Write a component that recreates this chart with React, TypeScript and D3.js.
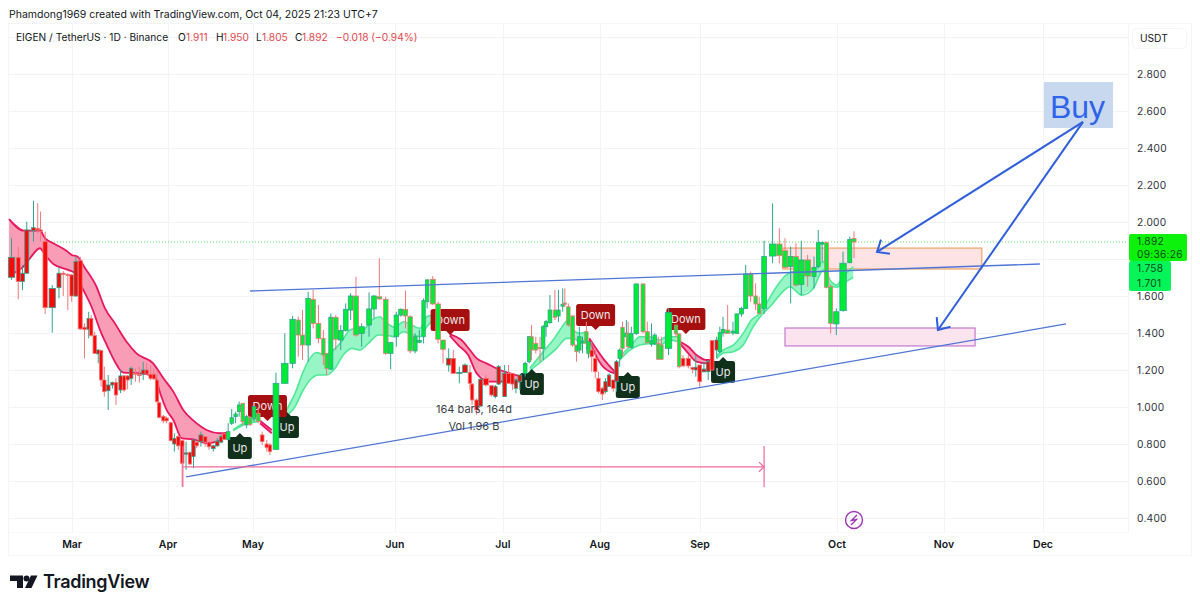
import React from "react";
import * as d3 from "d3";

type Bar = [number, number, number, number, number];
type Pt = [number, number];

// [session, open, high, low, close]
const barsFebApr: Bar[] = [
  [1.0,1.701,1.912,1.687,1.809],[2.9,1.809,1.867,1.582,1.678],[4.1,1.678,1.768,1.632,1.723],[5.3,1.723,2.002,1.723,1.957],
  [7.2,1.953,2.115,1.894,1.969],[8.4,1.965,2.101,1.939,1.957],[9.2,1.957,2.056,1.894,1.948],[10.5,1.894,1.948,1.503,1.537],
  [12.5,1.537,1.659,1.402,1.641],[14.4,1.645,1.755,1.587,1.723],[15.6,1.723,1.735,1.600,1.716],[16.9,1.716,1.723,1.524,1.712],
  [18.0,1.714,1.719,1.569,1.600],[19.2,1.600,1.813,1.596,1.786],[20.4,1.791,1.813,1.416,1.422],[21.6,1.431,1.452,1.263,1.420],
  [22.8,1.420,1.515,1.371,1.479],[23.5,1.479,1.497,1.380,1.386],[24.5,1.386,1.407,1.287,1.290],[25.5,1.287,1.312,1.236,1.308],
  [26.3,1.305,1.308,1.110,1.146],[27.2,1.146,1.218,1.056,1.083],[28.3,1.088,1.173,0.984,1.119],[29.5,1.119,1.137,1.100,1.132],
  [30.5,1.132,1.155,1.011,1.065],[31.8,1.092,1.200,1.075,1.168],[32.8,1.168,1.173,1.083,1.092],[33.8,1.168,1.173,1.096,1.146],
  [34.8,1.155,1.218,1.119,1.209],[36.0,1.182,1.209,1.137,1.178],[37.1,1.175,1.218,1.132,1.170],[38.2,1.178,1.245,1.146,1.200],
  [39.2,1.200,1.236,1.173,1.178],[40.3,1.177,1.227,1.146,1.155],[41.2,1.177,1.209,1.146,1.152],[42.1,1.146,1.200,1.020,1.029],
  [42.7,1.023,1.029,0.939,0.944],[43.9,0.950,0.957,0.912,0.925],[44.8,0.940,0.948,0.912,0.925],[46.0,0.915,0.921,0.813,0.818],
  [47.0,0.800,0.858,0.759,0.830],[48.1,0.840,0.849,0.768,0.790],[49.2,0.818,0.822,0.569,0.696],[50.3,0.745,0.813,0.660,0.752],
  [51.4,0.755,0.759,0.687,0.692],[52.4,0.732,0.822,0.669,0.822],[53.3,0.810,0.813,0.777,0.790],[54.5,0.813,0.867,0.786,0.849],
  [55.7,0.840,0.840,0.786,0.810],[56.8,0.810,0.813,0.768,0.785],[58.0,0.775,0.795,0.759,0.790],[59.1,0.790,0.831,0.786,0.815],
  [60.2,0.810,0.849,0.804,0.840],[61.1,0.855,0.858,0.822,0.825],
];
const barsMayJul: Bar[] = [
  [62.2,0.825,0.912,0.822,0.867],[63.2,0.912,0.989,0.903,0.942],[64.3,0.948,0.975,0.912,0.962],[65.3,0.975,1.029,0.948,1.011],
  [66.3,1.020,1.020,0.903,0.921],[67.4,0.903,0.957,0.885,0.948],[68.4,0.945,0.948,0.897,0.905],[69.5,0.939,1.002,0.921,1.002],
  [70.7,0.966,1.002,0.912,0.921],[71.8,0.849,0.867,0.795,0.813],[73.1,0.800,0.822,0.759,0.780],[74.0,0.795,0.804,0.741,0.759],
  [75.7,0.771,1.186,0.771,1.128],[78.2,1.128,1.398,1.128,1.236],[80.4,1.236,1.492,1.209,1.474],[82.0,1.470,1.488,1.272,1.389],
  [83.2,1.389,1.524,1.254,1.335],[84.8,1.335,1.623,1.245,1.587],[86.2,1.582,1.633,1.425,1.452],[87.7,1.452,1.551,1.344,1.371],
  [89.1,1.371,1.416,1.227,1.281],[90.0,1.290,1.290,1.173,1.209],[91.2,1.205,1.506,1.200,1.485],[92.6,1.485,1.497,1.308,1.366],
  [94.0,1.362,1.443,1.308,1.413],[95.4,1.413,1.560,1.407,1.528],[96.8,1.524,1.615,1.470,1.600],[98.3,1.600,1.705,1.380,1.389],
  [99.9,1.398,1.452,1.326,1.434],[102.0,1.443,1.620,1.380,1.530],[103.4,1.530,1.605,1.479,1.600],[104.9,1.596,1.804,1.578,1.584],
  [106.7,1.582,1.596,1.281,1.290],[108.1,1.290,1.353,1.204,1.348],[109.7,1.380,1.515,1.326,1.497],[111.0,1.497,1.533,1.488,1.528],
  [112.3,1.528,1.629,1.425,1.492],[113.6,1.488,1.497,1.290,1.303],[115.0,1.303,1.398,1.290,1.380],[116.2,1.350,1.416,1.345,1.360],
  [117.4,1.380,1.587,1.344,1.575],[118.4,1.569,1.690,1.533,1.687],[120.0,1.690,1.708,1.551,1.557],[121.5,1.557,1.569,1.344,1.366],
  [122.9,1.362,1.362,1.236,1.312],
];
const barsJulAug: Bar[] = [
  [124.5,1.227,1.317,1.191,1.263],[125.8,1.263,1.308,1.182,1.182],[127.5,1.184,1.218,1.128,1.187],[129.1,1.187,1.236,1.187,1.227],
  [130.5,1.187,1.227,1.092,1.128],[131.1,1.124,1.128,1.011,1.038],[132.4,1.038,1.047,0.957,0.984],[133.5,1.005,1.155,1.002,1.150],
  [135.0,1.155,1.173,1.110,1.119],[136.6,1.115,1.119,1.056,1.065],[137.7,1.056,1.119,1.047,1.110],[138.6,1.124,1.227,1.119,1.218],
  [140.3,1.056,1.227,1.056,1.182],[141.4,1.182,1.227,1.128,1.128],[142.5,1.182,1.182,1.092,1.124],[143.5,1.101,1.155,1.074,1.146],
  [144.6,1.137,1.173,1.092,1.173],[146.1,1.182,1.245,1.164,1.236],[147.2,1.245,1.384,1.236,1.380],[147.9,1.380,1.443,1.254,1.308],
  [149.1,1.344,1.380,1.290,1.308],[150.3,1.322,1.380,1.245,1.319],[151.2,1.317,1.443,1.254,1.434],[152.0,1.434,1.470,1.380,1.461],
  [153.1,1.456,1.605,1.450,1.524],[154.5,1.524,1.633,1.470,1.485],[155.5,1.492,1.633,1.460,1.524],
  [156.7,1.545,1.641,1.515,1.555],[157.3,1.562,1.641,1.542,1.555],[158.3,1.542,1.560,1.434,1.443],[159.5,1.492,1.497,1.326,1.335],
  [160.6,1.335,1.335,1.245,1.299],[161.4,1.308,1.434,1.290,1.380],[162.3,1.345,1.380,1.290,1.355],[163.4,1.407,1.461,1.308,1.344],
  [164.0,1.290,1.353,1.263,1.353],[164.9,1.308,1.353,1.191,1.272],[165.9,1.263,1.317,1.155,1.191],[166.8,1.155,1.191,1.074,1.083],
  [167.9,1.101,1.110,1.038,1.070],[168.8,1.083,1.155,1.074,1.137],[169.8,1.110,1.182,1.110,1.173],[171.0,1.146,1.146,1.083,1.101],
  [171.9,1.137,1.254,1.083,1.245],[172.8,1.263,1.317,1.218,1.308],[173.6,1.431,1.461,1.272,1.317],[174.7,1.380,1.470,1.326,1.400],
  [175.2,1.398,1.461,1.317,1.326],[176.1,1.323,1.434,1.317,1.398],[177.5,1.398,1.668,1.389,1.665],[179.4,1.665,1.668,1.398,1.407],
  [180.6,1.407,1.461,1.344,1.348],[181.8,1.340,1.452,1.326,1.358],[182.7,1.344,1.398,1.335,1.389],[183.7,1.344,1.380,1.254,1.258],
  [184.6,1.335,1.380,1.254,1.258],[186.6,1.317,1.533,1.281,1.510],[188.7,1.443,1.443,1.380,1.395],[189.6,1.395,1.398,1.209,1.218],
];
const barsAugOct: Bar[] = [
  [190.7,1.263,1.281,1.218,1.222],[192.2,1.263,1.281,1.209,1.222],[193.4,1.213,1.218,1.182,1.204],[194.3,1.200,1.281,1.164,1.215],
  [195.4,1.227,1.227,1.110,1.137],[196.6,1.190,1.245,1.191,1.205],[197.8,1.191,1.254,1.146,1.245],[198.9,1.359,1.362,1.200,1.200],
  [200.2,1.308,1.380,1.263,1.362],[201.1,1.299,1.434,1.290,1.402],[202.0,1.400,1.488,1.380,1.420],[203.3,1.416,1.551,1.395,1.398],
  [204.8,1.400,1.461,1.389,1.410],[205.9,1.398,1.506,1.395,1.503],[207.2,1.503,1.542,1.488,1.533],[208.4,1.533,1.768,1.530,1.719],
  [209.8,1.719,1.732,1.569,1.600],[211.2,1.600,1.668,1.524,1.557],[212.2,1.557,1.596,1.503,1.506],[213.6,1.533,1.899,1.503,1.813],
  [216.0,1.816,2.101,1.777,1.881],[217.9,1.881,1.966,1.777,1.818],[219.5,1.845,1.912,1.750,1.755],[221.1,1.759,1.867,1.560,1.813],
  [222.6,1.813,1.885,1.650,1.659],[224.1,1.663,1.899,1.605,1.795],[225.9,1.795,1.822,1.650,1.708],[227.7,1.705,1.813,1.641,1.755],
  [228.9,1.759,1.957,1.750,1.888],[230.0,1.880,1.894,1.786,1.890],[231.2,1.888,1.894,1.641,1.647],[232.4,1.650,1.659,1.398,1.452],
  [234.0,1.449,1.533,1.389,1.515],[235.9,1.521,1.840,1.515,1.777],[237.8,1.780,1.921,1.777,1.906],[239.0,1.911,1.950,1.805,1.892],
];
const bars: Bar[] = [...barsFebApr, ...barsMayJul, ...barsJulAug, ...barsAugOct];

// session at which the indicator's trend flips; bodies take the trend colour
const trendFlips: [number, "up" | "down"][] = [
  [0,"down"],[62,"up"],[71.5,"down"],[75,"up"],[124,"down"],[146,"up"],[164.5,"down"],[172.5,"up"],[190.2,"down"],[201,"up"],
];

// ribbon segments
const r1Up: Pt[] = [[0.3,2.016],[4.5,1.953],[9,1.953],[10.5,1.912],[12.8,1.885],[16.6,1.843],[18,1.822],[19.6,1.813],[21.8,1.75],[25,1.65],[27.4,1.533],[30.2,1.452],[33.5,1.353],[36.3,1.29],[41,1.236],[43.9,1.155],[46.7,1.083],[49.5,0.984],[52.4,0.926],[56.1,0.876],[59.9,0.858],[62.2,0.861]];
const r1Lo: Pt[] = [[0.3,1.705],[2.4,1.732],[4.5,1.762],[6.2,1.804],[9,1.858],[10.5,1.822],[12.8,1.773],[17,1.741],[18.9,1.723],[21.3,1.632],[23.6,1.542],[26,1.416],[27.9,1.335],[30.2,1.245],[32.6,1.186],[37.3,1.182],[41.5,1.164],[43,1.074],[44.8,0.984],[46.7,0.93],[49.1,0.831],[52.4,0.825],[56.1,0.804],[58.9,0.813],[62.2,0.849]];
const r2Up: Pt[] = [[63.6,0.876],[66.5,0.912],[70.7,0.939]];
const r2Lo: Pt[] = [[63.6,0.872],[66.5,0.903],[70.7,0.921]];
const r3Up: Pt[] = [[71.2,0.926],[74.5,0.876]];
const r3Lo: Pt[] = [[71.2,0.912],[74.5,0.858]];
const r4Up: Pt[] = [[75.9,0.876],[78.7,0.984],[81.1,1.074],[83.4,1.191],[85.3,1.263],[87.2,1.294],[89.5,1.281],[91.9,1.308],[94.2,1.353],[96.6,1.416],[98.5,1.425],[100.8,1.425],[102.7,1.47],[105.1,1.488],[106.5,1.461],[109.3,1.431],[111.7,1.461],[114,1.443],[116.4,1.425],[118.3,1.488],[120.1,1.497]];
const r4Lo: Pt[] = [[75.9,0.876],[78.7,0.948],[81.1,1.002],[83.4,1.092],[85.3,1.146],[87.7,1.173],[90,1.173],[92.4,1.209],[94.7,1.281],[97.1,1.317],[99.4,1.308],[101.8,1.344],[104.6,1.389],[106.5,1.389],[109.3,1.38],[111.7,1.407],[114.5,1.389],[116.4,1.38],[118.3,1.434],[120.1,1.47]];
const r5Up: Pt[] = [[124.8,1.393],[128.1,1.362],[130.5,1.308],[132.4,1.263],[135.2,1.236],[139,1.2],[141.8,1.182],[145.1,1.164]];
const r5Lo: Pt[] = [[124.8,1.386],[127.2,1.335],[130,1.281],[132.4,1.182],[136.1,1.137],[139,1.137],[141.8,1.137],[145.1,1.137]];
const r6Up: Pt[] = [[147.4,1.209],[151.2,1.299],[154,1.362],[156.9,1.443],[157.8,1.465],[159.7,1.416],[161.5,1.398],[163.4,1.407]];
const r6Lo: Pt[] = [[147.4,1.196],[151.2,1.254],[155,1.317],[157.8,1.371],[159.7,1.371],[161.5,1.353],[163.4,1.366]];
const r7Up: Pt[] = [[164.2,1.371],[165.8,1.326],[168.1,1.263],[171.4,1.191]];
const r7Lo: Pt[] = [[164.2,1.362],[165.8,1.29],[168.1,1.218],[171.4,1.182]];
const r8Up: Pt[] = [[172.8,1.272],[176.1,1.335],[178.5,1.38],[181.3,1.38],[184.1,1.362],[186,1.38],[189.3,1.38]];
const r8Lo: Pt[] = [[172.8,1.254],[175.7,1.308],[178.5,1.335],[181.8,1.344],[184.1,1.335],[187,1.362],[189.3,1.353]];
const r9Up: Pt[] = [[189.8,1.353],[192.2,1.326],[194.5,1.281],[197.3,1.254],[199.2,1.254]];
const r9Lo: Pt[] = [[189.8,1.344],[192.2,1.29],[194.5,1.245],[197.3,1.236],[199.2,1.236]];
const r10Up: Pt[] = [[200.2,1.278],[202,1.308],[204.9,1.335],[207.7,1.398],[210,1.47],[212.4,1.506],[214.8,1.578],[217.1,1.65],[219.9,1.714],[221.8,1.732],[224.2,1.714],[227.5,1.732],[230.3,1.786],[232.2,1.687],[234.1,1.659],[235.9,1.705],[238.8,1.758]];
const r10Lo: Pt[] = [[200.2,1.263],[202,1.29],[204.9,1.299],[207.7,1.335],[210.5,1.434],[212.9,1.497],[215.7,1.551],[218,1.605],[220.9,1.65],[224.2,1.605],[227.5,1.641],[230.3,1.741],[232.2,1.659],[234.1,1.647],[235.9,1.668],[238.8,1.701]];
const ribbons: [Pt[], Pt[], "up" | "down"][] = [
  [r1Up,r1Lo,"down"],[r2Up,r2Lo,"up"],[r3Up,r3Lo,"down"],[r4Up,r4Lo,"up"],[r5Up,r5Lo,"down"],
  [r6Up,r6Lo,"up"],[r7Up,r7Lo,"down"],[r8Up,r8Lo,"up"],[r9Up,r9Lo,"down"],[r10Up,r10Lo,"up"],
];

// signal flags: session, price at the pointer tip, label
const signals: [number, number, "Up" | "Down"][] = [
  [65.5,0.859,"Up"],[78.8,0.973,"Up"],[73.3,0.924,"Down"],[124.9,1.389,"Down"],[148,1.205,"Up"],
  [166,1.416,"Down"],[175.1,1.189,"Up"],[191.5,1.395,"Down"],[202,1.27,"Up"],
];

const priceTicks = [3.0,2.8,2.6,2.4,2.2,2.0,1.8,1.6,1.4,1.2,1.0,0.8,0.6,0.4];
// the 3.000 and 1.800 ticks have no visible label: the currency box and the price tags cover them
const priceLabels = [2.8,2.6,2.4,2.2,2.0,1.6,1.4,1.2,1.0,0.8,0.6,0.4];
const monthNames = ["Mar","Apr","May","Jun","Jul","Aug","Sep","Oct","Nov","Dec"];
const monthSessions = [18.1,45.2,69.2,109.3,139.8,167.2,195.5,234.2,264.4,292.4];

// drawings: session / price endpoints
const resistance: [Pt, Pt] = [[68.4,1.627],[291.5,1.773]];
const support: [Pt, Pt] = [[50.3,0.622],[298.9,1.449]];
const rangeStart = 49.4, rangeEnd = 213.6, rangeMid = 0.676, rangeTop = 0.789, rangeBottom = 0.568;
const zone1 = { t0: 218.9, t1: 275.1, p0: 1.859, p1: 1.746 };
const zone2 = { t0: 219.5, t1: 273.2, p0: 1.427, p1: 1.330 };
const buyApex: Pt = [303.7,2.541];
const buyTargets: Pt[] = [[245.5,1.838],[262.7,1.416]];
const lastClose = 1.892;
const lastUpper = 1.758;
const lastLower = 1.701;

const headerParts: [string, number, string][] = [
  ["EIGEN / TetherUS · 1D · Binance",16,"#131722"],["O",178,"#131722"],["1.911",186,"#e5484d"],
  ["H",216,"#131722"],["1.950",223,"#e5484d"],["L",256,"#131722"],["1.805",262,"#e5484d"],
  ["C",295,"#131722"],["1.892",302,"#e5484d"],["−0.018 (−0.94%)",336,"#e5484d"],
];

const x = d3.scaleLinear().domain([0,316.4]).range([8,1128]);
const y = d3.scaleLinear().domain([0.4,2.8]).range([518,74]);
const FONT = "Inter, 'Noto Sans', sans-serif";
const GRID = "#f2f3f5";
const COL = { bull:"#00ea38", bear:"#f70a0a", wickUp:"#2ea58f", wickDown:"#f0787a",
  ribbonUpFill:"#98f6c6", ribbonUpLine:"#4fe998", ribbonDownFill:"#f99db6", ribbonDownLine:"#e8175f" };

function trendAt(t: number) {
  let cur: "up" | "down" = "down";
  for (const [s, d] of trendFlips) if (t >= s) cur = d;
  return cur;
}

function arrowHead(x0: number, y0: number, x1: number, y1: number, len: number, spread: number) {
  const a = Math.atan2(y1 - y0, x1 - x0);
  const p = (d: number) => `${x1 - len * Math.cos(a + d)},${y1 - len * Math.sin(a + d)}`;
  return `M${p(spread)}L${x1},${y1}L${p(-spread)}`;
}

export default function App() {
  const lineGen = d3.line<Pt>().x(d => x(d[0])).y(d => y(d[1])).curve(d3.curveMonotoneX);
  const polyGen = d3.line<Pt>().x(d => x(d[0])).y(d => y(d[1]));
  return (
    <svg width={1200} height={608} viewBox="0 0 1200 608"
      style={{ position:"absolute", left:0, top:0, display:"block", background:"#fff", fontFamily:FONT }}>
      <rect x={0} y={0} width={1200} height={608} fill="#fff" />
      <text x={9} y={18} fontSize={10.5} fill="#131722">Phamdong1969 created with TradingView.com, Oct 04, 2025 21:23 UTC+7</text>
      {/* frame */}
      <rect x={8.5} y={23.5} width={1183} height={532} fill="none" stroke="#f4f5f6" />
      <line x1={1128.5} x2={1128.5} y1={24} y2={532} stroke="#f4f5f6" />
      <line x1={9} x2={1128} y1={532.5} y2={532.5} stroke="#fafafa" />
      {/* grid */}
      {priceTicks.map(p => <line key={p} x1={9} x2={1128} y1={Math.round(y(p))+0.5} y2={Math.round(y(p))+0.5} stroke={GRID} />)}
      {monthSessions.map(t => <line key={t} x1={Math.round(x(t))+0.5} x2={Math.round(x(t))+0.5} y1={24} y2={532} stroke={GRID} />)}
      {monthNames.map((m,i) => <text key={m} x={x(monthSessions[i])} y={548} fontSize={10.5} fontWeight={600} textAnchor="middle" fill="#131722">{m}</text>)}
      {/* last price */}
      <line x1={9} x2={1128} y1={y(lastClose)} y2={y(lastClose)} stroke="#63e063" strokeDasharray="1 2" />
      {/* zones */}
      <rect x={x(zone1.t0)} y={y(zone1.p0)} width={x(zone1.t1)-x(zone1.t0)} height={y(zone1.p1)-y(zone1.p0)} fill="#fde3e3" stroke="#eea368" strokeWidth={1.2} />
      <rect x={x(zone2.t0)} y={y(zone2.p0)} width={x(zone2.t1)-x(zone2.t0)} height={y(zone2.p1)-y(zone2.p0)} fill="#fbe4ee" stroke="#c47ad0" strokeWidth={1.2} />
      {/* ribbons */}
      {ribbons.map(([up,lo,dir],i) => (
        <g key={i}>
          <path d={polyGen([...up, ...[...lo].reverse()]) + "Z"} fill={dir==="up"?COL.ribbonUpFill:COL.ribbonDownFill} />
          <path d={lineGen(up)!} fill="none" stroke={dir==="up"?COL.ribbonUpLine:COL.ribbonDownLine} strokeWidth={dir==="up"?1.6:1.8} />
          <path d={lineGen(lo)!} fill="none" stroke={dir==="up"?COL.ribbonUpLine:COL.ribbonDownLine} strokeWidth={dir==="up"?1.6:1.8} />
        </g>
      ))}
      {/* signal flags */}
      {signals.map(([t,p,label],i) => {
        const cx = x(t), tip = y(p), isUp = label === "Up";
        const w = isUp ? 24 : 39, h = 22;
        const boxY = isUp ? tip + 4 : tip - 4 - h;
        const base = isUp ? tip + 4.5 : tip - 4.5;
        return (
          <g key={i}>
            <rect x={cx-w/2} y={boxY} width={w} height={h} rx={2.5} fill={isUp?"#11301c":"#a60f0f"} />
            <path d={`M${cx-4.5},${base}L${cx},${tip}L${cx+4.5},${base}Z`} fill={isUp?"#11301c":"#a60f0f"} />
            <text x={cx} y={boxY+15} fontSize={11} textAnchor="middle" fill="#e8e8e8">{label}</text>
          </g>
        );
      })}
      {/* candles */}
      {bars.map(([t,o,h,l,c],i) => {
        const prev = i>0 ? t-bars[i-1][0] : 2;
        const next = i<bars.length-1 ? bars[i+1][0]-t : 2;
        const w = Math.max(3.4, Math.min(6.4, Math.min(prev,next)*3.54*0.95));
        const cx = x(t), up = c>=o;
        const edge = up ? COL.wickUp : COL.wickDown;
        const top = y(Math.max(o,c)), bot = y(Math.min(o,c));
        return (
          <g key={i}>
            <line x1={cx} x2={cx} y1={y(h)} y2={y(l)} stroke={edge} strokeWidth={1} />
            <rect x={cx-w/2} y={top} width={w} height={Math.max(1,bot-top)} fill={trendAt(t)==="up"?COL.bull:COL.bear} stroke={edge} strokeWidth={0.8} />
          </g>
        );
      })}
      {/* trend lines */}
      {[resistance,support].map((seg,i) => (
        <line key={i} x1={x(seg[0][0])} y1={y(seg[0][1])} x2={x(seg[1][0])} y2={y(seg[1][1])} stroke="#4f76d6" strokeWidth={1.3} />
      ))}
      {/* date range */}
      <g stroke="#f06a99" fill="none" strokeWidth={1.2}>
        <line x1={x(rangeStart)} x2={x(rangeEnd)} y1={y(rangeMid)} y2={y(rangeMid)} />
        <line x1={x(rangeStart)} x2={x(rangeStart)} y1={y(rangeTop)} y2={y(rangeBottom)} />
        <line x1={x(rangeEnd)} x2={x(rangeEnd)} y1={y(rangeTop)} y2={y(rangeBottom)} />
        <path d={arrowHead(x(rangeStart),y(rangeMid),x(rangeEnd),y(rangeMid),7,0.75)} />
      </g>
      <text x={474} y={413} fontSize={11} textAnchor="middle" fill="#3a3d46">164 bars, 164d</text>
      <text x={474} y={430} fontSize={11} textAnchor="middle" fill="#3a3d46">Vol 1.96 B</text>
      {/* buy note */}
      <rect x={1044} y={82} width={69} height={46} fill="#c8d8ee" />
      <text x={1077.5} y={118} fontSize={32} textAnchor="middle" fill="#2f63ea" fontFamily="'Liberation Sans', sans-serif">Buy</text>
      {buyTargets.map((tg,i) => {
        const x0=x(buyApex[0]), y0=y(buyApex[1]), x1=x(tg[0]), y1=y(tg[1]);
        return (
          <g key={i} stroke="#2f5fdc" strokeWidth={2} fill="none">
            <line x1={x0} y1={y0} x2={x1} y2={y1} />
            <path d={arrowHead(x0,y0,x1,y1,13,0.7)} />
          </g>
        );
      })}
      {/* flash icon */}
      <g stroke="#9c36b5" fill="none">
        <circle cx={854} cy={520} r={8.5} strokeWidth={1.4} />
        <path d="M857,515L851.5,520.5L856.5,519.5L851,525" strokeWidth={1.3} />
      </g>
      {/* price axis */}
      {priceLabels.map(p => (
        <text key={p} x={1137} y={y(p)+4} fontSize={10.2} letterSpacing={0.25} fill="#2f323b">{d3.format(".3f")(p)}</text>
      ))}
      <rect x={1132.5} y={28.5} width={54} height={20} rx={4} fill="#fff" stroke="#f3f4f6" />
      <text x={1140} y={42} fontSize={10.2} fill="#131722">USDT</text>
      {/* price tags */}
      <rect x={1129} y={261} width={42} height={30} rx={2} fill="#05f45a" />
      <rect x={1129} y={234} width={58} height={27} rx={2} fill="#0df20d" />
      <g fontSize={10.2} letterSpacing={0.25} fill="#0c4a1c">
        <text x={1137} y={245}>{lastClose.toFixed(3)}</text>
        <text x={1137} y={257.5}>09:36:26</text>
        <text x={1137} y={272}>{lastUpper.toFixed(3)}</text>
        <text x={1137} y={287}>{lastLower.toFixed(3)}</text>
      </g>
      {/* legend */}
      {headerParts.map(([s,px,col]) => <text key={px} x={px} y={41} fontSize={10.2} fill={col}>{s}</text>)}
      {/* logo */}
      <g fill="#131722">
        <path d="M10,575.5H23V588H17V581H10Z" />
        <circle cx={26.5} cy={578.5} r={3} />
        <path d="M31,575.5H37.5L31.5,588H25Z" />
      </g>
      <text x={43} y={588} fontSize={18} fontWeight={600} fill="#131722" letterSpacing={-0.3}>TradingView</text>
    </svg>
  );
}
